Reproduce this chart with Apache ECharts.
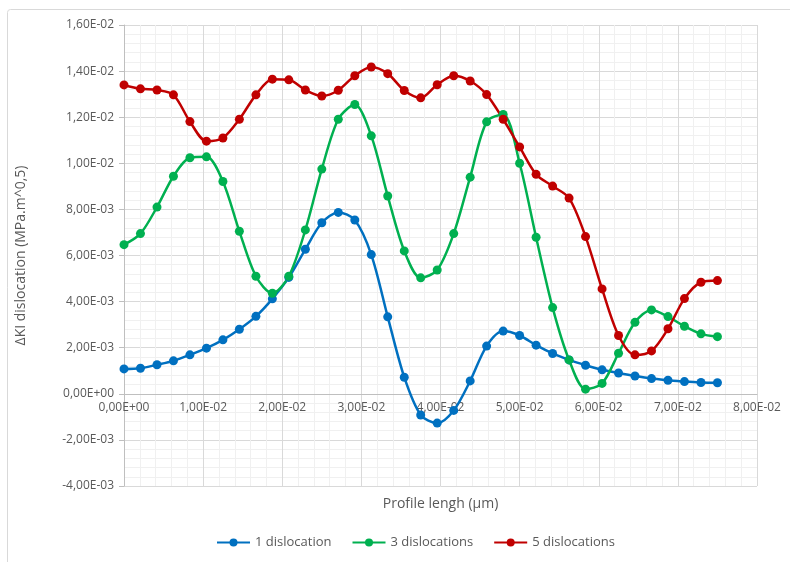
<!DOCTYPE html>
<html>
<head>
<meta charset="utf-8">
<script src="https://cdn.jsdelivr.net/npm/echarts@6/dist/echarts.min.js"></script>
<style>
  html, body { margin: 0; padding: 0; background: #fff; }
  #ct1 { width: 790px; height: 562px; }
</style>
</head>
<body>
<div id="ct1"></div>
<script>
// profile positions (x) and the three series
var profile = [0, 0.00208, 0.00417, 0.00625, 0.00833, 0.01042, 0.0125, 0.01458, 0.01667, 0.01875,
    0.02083, 0.02292, 0.025, 0.02708, 0.02917, 0.03125, 0.03333, 0.03542, 0.0375, 0.03958,
    0.04167, 0.04375, 0.04583, 0.04792, 0.05, 0.05208, 0.05417, 0.05625, 0.05833, 0.06042,
    0.0625, 0.06458, 0.06667, 0.06875, 0.07083, 0.07292, 0.075];

var disl1 = [0.00108, 0.00111, 0.00126, 0.00143, 0.00169, 0.00198, 0.00234, 0.00280, 0.00336, 0.00412,
    0.00505, 0.00627, 0.00742, 0.00787, 0.00754, 0.00604, 0.00334, 0.00072, -0.00092, -0.00127,
    -0.00072, 0.00056, 0.00207, 0.00272, 0.00253, 0.00211, 0.00175, 0.00147, 0.00124, 0.00104,
    0.00090, 0.00077, 0.00066, 0.00059, 0.00053, 0.00049, 0.00048];

var disl3 = [0.00647, 0.00695, 0.00810, 0.00944, 0.01024, 0.01028, 0.00921, 0.00705, 0.00510, 0.00436,
    0.00510, 0.00711, 0.00975, 0.01191, 0.01255, 0.01119, 0.00858, 0.00620, 0.00503, 0.00537,
    0.00695, 0.00940, 0.01180, 0.01212, 0.01000, 0.00679, 0.00374, 0.00147, 0.00020, 0.00045,
    0.00176, 0.00310, 0.00364, 0.00335, 0.00293, 0.00260, 0.00248];

var disl5 = [0.01340, 0.01323, 0.01318, 0.01297, 0.01181, 0.01096, 0.01110, 0.01191, 0.01297, 0.01365,
    0.01362, 0.01318, 0.01292, 0.01317, 0.01380, 0.01418, 0.01389, 0.01316, 0.01284, 0.01341,
    0.01380, 0.01357, 0.01298, 0.01191, 0.01071, 0.00952, 0.00901, 0.00849, 0.00682, 0.00455,
    0.00253, 0.00169, 0.00186, 0.00282, 0.00413, 0.00484, 0.00491];

var seriesNames = ['1 dislocation', '3 dislocations', '5 dislocations'];
var colors = ['#0070C0', '#00B050', '#C00000'];

// Excel style "1,00E-02"
function sci(v) {
    if (Math.abs(v) < 1e-12) v = 0;
    var s = v.toExponential(2).split('e');
    var exp = parseInt(s[1], 10);
    var sign = exp < 0 ? '-' : '+';
    var e = Math.abs(exp);
    return s[0].replace('.', ',') + 'E' + sign + (e < 10 ? '0' + e : e);
}

function pairs(ys) {
    return ys.map(function (y, i) { return [profile[i], y]; });
}

var myChart = echarts.init(document.getElementById('ct1'));

var textCol = '#595959';
var font = 'Open Sans';

var option = {
    color: colors,
    animation: false,
    graphic: [{
        type: 'rect',
        left: 5, top: 7,
        shape: { width: 820, height: 620, r: 3 },
        style: { fill: 'none', stroke: '#d9d9d9', lineWidth: 1 },
        silent: true
    }],
    grid: { left: 124, right: 33, top: 25, bottom: 76, outerBoundsMode: 'none', containLabel: false },
    legend: {
        data: seriesNames,
        bottom: 8,
        left: 211,
        itemWidth: 33,
        itemHeight: 10,
        itemGap: 20,
        textStyle: { color: textCol, fontSize: 13, fontFamily: font }
    },
    xAxis: {
        type: 'value',
        min: 0,
        max: 0.08,
        interval: 0.01,
        // axis sits on the zero line, 92px above the plot bottom
        offset: -92,
        name: 'Profile lengh (µm)',
        nameLocation: 'middle',
        nameGap: 103,
        nameTextStyle: { color: textCol, fontSize: 14, fontFamily: font },
        axisLine: { onZero: false, lineStyle: { color: '#bfbfbf' } },
        axisTick: { show: false },
        axisLabel: { formatter: sci, color: textCol, fontSize: 12, fontFamily: font, margin: 8 },
        splitLine: { show: true, lineStyle: { color: '#d9d9d9' } },
        minorTick: { show: false, splitNumber: 5 },
        minorSplitLine: { show: true, lineStyle: { color: '#f0f0f0' } }
    },
    yAxis: {
        type: 'value',
        min: -0.004,
        max: 0.016,
        interval: 0.002,
        name: 'ΔKI dislocation (MPa.m^0,5)',
        nameLocation: 'middle',
        nameGap: 96,
        nameTextStyle: { color: textCol, fontSize: 14, fontFamily: font },
        axisLine: { show: true, onZero: false, lineStyle: { color: '#bfbfbf' } },
        axisTick: { show: true, length: 5, lineStyle: { color: '#bfbfbf' } },
        axisLabel: { formatter: sci, color: textCol, fontSize: 12, fontFamily: font, margin: 10 },
        splitLine: { show: true, lineStyle: { color: '#d9d9d9' } },
        minorTick: { show: false, splitNumber: 5 },
        minorSplitLine: { show: true, lineStyle: { color: '#f0f0f0' } }
    },
    series: [disl1, disl3, disl5].map(function (ys, k) {
        return {
            name: seriesNames[k],
            type: 'line',
            smooth: 0.3,
            symbol: 'circle',
            symbolSize: 9,
            lineStyle: { width: 2.5 },
            data: pairs(ys)
        };
    })
};

myChart.setOption(option);
</script>
</body>
</html>
